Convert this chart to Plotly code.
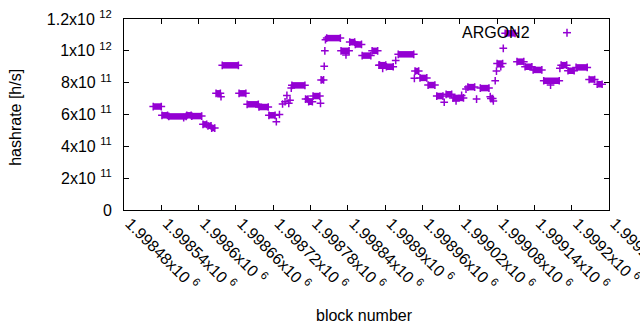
import plotly.graph_objects as go

# Runs of consecutive blocks sharing the same hashrate (block start, block end, hashrate in 1e11 h/s)
run_start = [1998527, 1998541, 1998552, 1998581, 1998589, 1998607, 1998615, 1998621, 1998628,
             1998638, 1998665, 1998678, 1998697, 1998713, 1998750, 1998772, 1998777, 1998784,
             1998797, 1998806, 1998829, 1998843, 1998852, 1998863, 1998879, 1998891, 1998902,
             1998921, 1998948, 1998956, 1998969, 1998983, 1998998, 1999009, 1999033, 1999053,
             1999070, 1999080, 1999093, 1999112, 1999125, 1999138, 1999155, 1999183, 1999194,
             1999207, 1999228, 1999241]
run_end = [1998540, 1998550, 1998580, 1998588, 1998605, 1998613, 1998620, 1998626, 1998635,
           1998664, 1998676, 1998696, 1998712, 1998723, 1998771, 1998776, 1998783, 1998795,
           1998801, 1998828, 1998842, 1998851, 1998862, 1998877, 1998888, 1998901, 1998913,
           1998946, 1998954, 1998967, 1998980, 1998993, 1999007, 1999026, 1999044, 1999067,
           1999073, 1999089, 1999109, 1999123, 1999136, 1999152, 1999180, 1999192, 1999204,
           1999225, 1999237, 1999249]
run_value = [6.50, 5.95, 5.88, 5.95, 5.90, 5.38, 5.29, 5.15, 7.33,
             9.09, 7.33, 6.64, 6.47, 5.95, 7.83, 6.97, 6.80, 7.16,
             8.17, 10.80, 10.00, 10.55, 10.40, 9.70, 10.00, 9.10, 9.00,
             9.78, 8.73, 8.30, 7.85, 7.16, 7.27, 7.04, 7.72, 7.66,
             7.00, 9.20, 11.10, 9.32, 9.00, 8.80, 8.12, 9.10, 8.75,
             8.96, 8.20, 7.90]

# Isolated blocks (block, hashrate in 1e11 h/s)
single_block = [1998576, 1998636, 1998725, 1998730, 1998735, 1998739, 1998742, 1998745,
                1998747, 1998749, 1998796, 1998802, 1998803, 1998804, 1998837, 1998890,
                1998896, 1998917, 1998947, 1998995, 1999014, 1999023, 1999030, 1999047,
                1999069, 1999074, 1999077, 1999079, 1999086, 1999090, 1999166, 1999181]
single_value = [5.80, 7.12, 5.55, 6.00, 6.66, 6.80, 7.20, 6.70,
                6.90, 7.66, 6.70, 9.03, 10.00, 10.70, 9.74, 9.10,
                8.90, 9.40, 8.27, 6.77, 6.85, 7.20, 7.60, 6.97,
                7.12, 6.85, 8.12, 8.73, 9.00, 10.16, 7.85, 8.90]

x_tick_vals = [1998480 + 60 * k for k in range(14)]
x_tick_text = ["1.99848x10 <sup>6</sup>", "1.99854x10 <sup>6</sup>", "1.9986x10 <sup>6</sup>",
               "1.99866x10 <sup>6</sup>", "1.99872x10 <sup>6</sup>", "1.99878x10 <sup>6</sup>",
               "1.99884x10 <sup>6</sup>", "1.9989x10 <sup>6</sup>", "1.99896x10 <sup>6</sup>",
               "1.99902x10 <sup>6</sup>", "1.99908x10 <sup>6</sup>", "1.99914x10 <sup>6</sup>",
               "1.9992x10 <sup>6</sup>", "1.99926x10 <sup>6</sup>"]
y_tick_vals = [0, 2, 4, 6, 8, 10, 12]
y_tick_text = ["0", "2x10 <sup>11</sup>", "4x10 <sup>11</sup>", "6x10 <sup>11</sup>",
               "8x10 <sup>11</sup>", "1x10 <sup>12</sup>", "1.2x10 <sup>12</sup>"]

COLOR = "#9400D3"
FONT = "Liberation Sans, Arial, sans-serif"

seg_x, seg_y = [], []
for s, e, v in zip(run_start, run_end, run_value):
    seg_x += [s, e, None]
    seg_y += [v, v, None]

fig = go.Figure()
fig.add_trace(go.Scatter(x=seg_x, y=seg_y, mode="lines+markers",
                         line=dict(color=COLOR, width=6.5),
                         marker=dict(symbol="cross-thin", size=5.5, line=dict(color=COLOR, width=1.5)),
                         showlegend=False, hoverinfo="skip"))
fig.add_trace(go.Scatter(x=single_block, y=single_value, mode="markers",
                         marker=dict(symbol="cross-thin", size=5.5, line=dict(color=COLOR, width=1.5)),
                         showlegend=False))

# key: text then sample point (gnuplot style)
kx, ky = 0.9134, 0.9283
dx, dy = 4.0 / 485, 4.0 / 191
fig.add_shape(type="line", xref="paper", yref="paper", x0=kx - dx, x1=kx + dx, y0=ky, y1=ky,
              line=dict(color=COLOR, width=1.5))
fig.add_shape(type="line", xref="paper", yref="paper", x0=kx, x1=kx, y0=ky - dy, y1=ky + dy,
              line=dict(color=COLOR, width=1.5))
fig.add_annotation(xref="paper", yref="paper", x=0.8412, y=ky, xanchor="right", yanchor="middle",
                   text="ARGON2", showarrow=False, font=dict(family=FONT, size=16, color="black"))

fig.add_annotation(xref="paper", yref="paper", x=-0.2227, y=0.488, xanchor="center", yanchor="middle",
                   text="hashrate [h/s]", textangle=-90, showarrow=False,
                   font=dict(family=FONT, size=16, color="black"))
fig.add_annotation(xref="paper", yref="paper", x=0.495, y=-0.55, xanchor="center", yanchor="middle",
                   text="block number", showarrow=False, font=dict(family=FONT, size=16, color="black"))

axis_common = dict(showgrid=False, zeroline=False, showline=True, linecolor="black", linewidth=1,
                   ticks="inside", ticklen=5, tickcolor="black", tickwidth=1, mirror="ticks",
                   automargin=False, ticklabeloverflow="allow",
                   tickfont=dict(family=FONT, size=16, color="black"))
fig.update_xaxes(range=[1998480, 1999260], tickmode="array", tickvals=x_tick_vals,
                 ticktext=x_tick_text, tickangle=45, ticklabelshift=6, ticklabelstandoff=-3,
                 **axis_common)
fig.update_yaxes(range=[0, 12], tickmode="array", tickvals=y_tick_vals, ticktext=y_tick_text,
                 ticklabelstandoff=8, **axis_common)

fig.update_layout(width=640, height=330, margin=dict(l=124, r=31, t=19, b=120),
                  paper_bgcolor="white", plot_bgcolor="white", showlegend=False)
fig.write_html("out.html", config={"displayModeBar": False},
               post_script="document.body.style.margin='0px';")
